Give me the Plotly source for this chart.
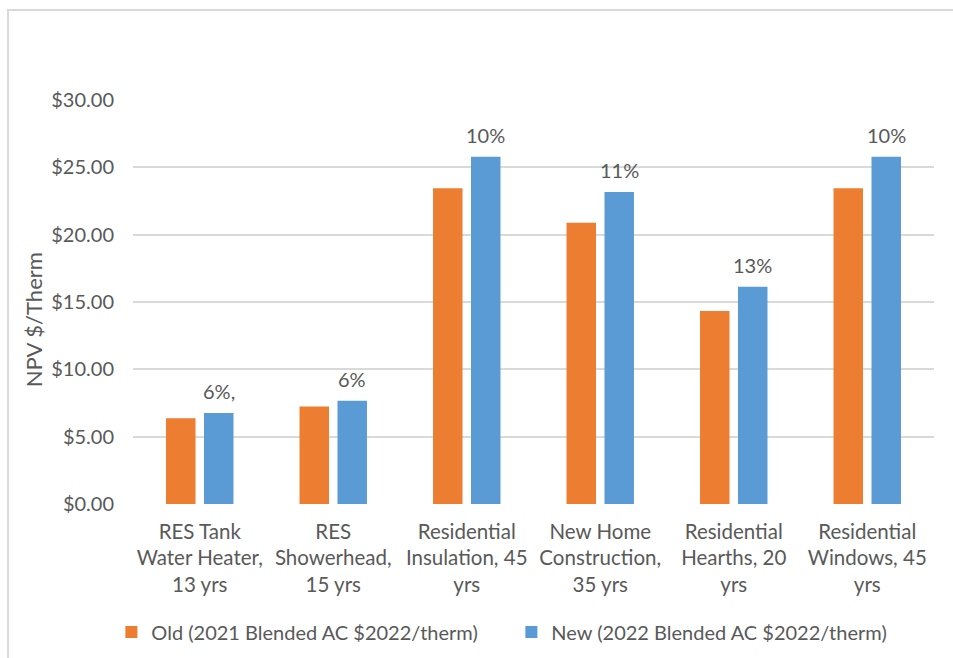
import plotly.graph_objects as go

# Measures (x-axis categories)
categories = [
    "RES Tank<br>Water Heater,<br>13 yrs",
    "RES<br>Showerhead,<br>15 yrs",
    "Residential<br>Insulation, 45<br>yrs",
    "New Home<br>Construction,<br>35 yrs",
    "Residential<br>Hearths, 20<br>yrs",
    "Residential<br>Windows, 45<br>yrs",
]

# NPV $/therm for each avoided-cost vintage
old_values = [6.37, 7.24, 23.44, 20.89, 14.34, 23.44]
new_values = [6.75, 7.66, 25.79, 23.17, 16.14, 25.79]

# Percent-change labels shown over the new bars
change_labels = ["6%,", "6%", "10%", "11%", "13%", "10%"]

series_names = [
    "Old (2021 Blended AC $2022/therm)",
    "New (2022 Blended AC $2022/therm)",
]

ORANGE = "#ED7D31"
BLUE = "#5B9BD5"
TEXT = "#595959"
GRID = "#D9D9D9"
FONT = "Lato, Calibri, Carlito, sans-serif"

fig = go.Figure()
fig.add_trace(go.Bar(x=categories, y=old_values, name=series_names[0],
                     marker=dict(color=ORANGE, line=dict(width=0)),
                     hoverinfo="skip"))
fig.add_trace(go.Bar(x=categories, y=new_values, name=series_names[1],
                     marker=dict(color=BLUE, line=dict(width=0)),
                     hoverinfo="skip"))

# percent-change labels above each blue bar
for cat, val, lab in zip(categories, new_values, change_labels):
    fig.add_annotation(x=cat, y=val, xref="x", yref="y", text=lab,
                       showarrow=False, xshift=19, yshift=22,
                       yanchor="middle", xanchor="center",
                       font=dict(family=FONT, size=20, color=TEXT))

# vertical value-axis title
fig.add_annotation(x=-0.1248, y=0.455, xref="paper", yref="paper",
                   text="NPV $/Therm", textangle=-90, showarrow=False,
                   xanchor="center", yanchor="middle",
                   font=dict(family=FONT, size=22, color=TEXT))

# light chart-area border
fig.add_shape(type="rect", xref="paper", yref="paper",
              x0=-0.156, x1=1.04, y0=-0.45, y1=1.2228,
              line=dict(color=GRID, width=2), fillcolor="rgba(0,0,0,0)",
              layer="below")

fig.update_layout(
    width=953, height=658,
    margin=dict(l=133, r=19, t=100, b=154, autoexpand=False),
    paper_bgcolor="white", plot_bgcolor="white",
    barmode="group", bargap=0.431, bargroupgap=0.224,
    font=dict(family=FONT, size=20, color=TEXT),
    showlegend=True,
    legend=dict(orientation="h", x=-0.027, xanchor="left",
                y=-0.317, yanchor="middle",
                font=dict(family=FONT, size=20, color=TEXT),
                entrywidth=355, entrywidthmode="pixels",
                bgcolor="rgba(0,0,0,0)"),
    xaxis=dict(showgrid=False, showline=False, zeroline=False,
               ticks="", ticklabelstandoff=13,
               tickfont=dict(family=FONT, size=20.5, color=TEXT)),
    yaxis=dict(range=[0, 30], dtick=5, tick0=0,
               tickprefix="$", tickformat=".2f",
               showgrid=True, gridcolor=GRID, gridwidth=1.5,
               zeroline=False, showline=False, ticks="",
               ticklabelstandoff=18,
               tickfont=dict(family=FONT, size=20, color=TEXT)),
)

fig.write_html("out.html")
